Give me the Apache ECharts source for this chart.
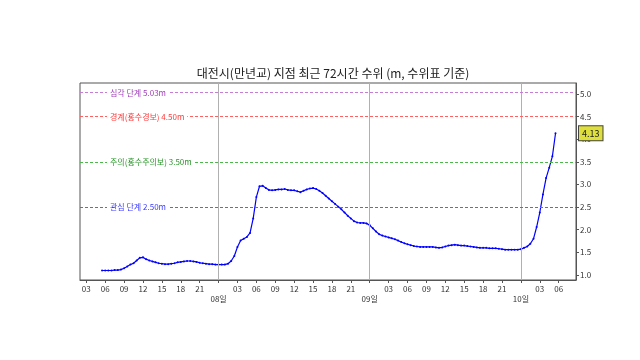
<!DOCTYPE html>
<html><head><meta charset="utf-8">
<script src="https://cdn.jsdelivr.net/npm/echarts@6/dist/echarts.min.js"></script>
<style>html,body{margin:0;padding:0;background:#fff}#c{width:640px;height:360px}</style>
</head><body><div id="c"></div>
<script>
// Hours counted from 07일 00:00; readings every 30 minutes
const startHour = 5.5;
const stepHours = 0.5;
const waterLevel = [
 1.10,1.10,1.10,1.10,1.11,1.11,1.12,1.15,1.19,1.23,1.26,1.32,1.38,1.39,1.35,1.32,1.30,1.28,1.26,1.25,
 1.24,1.24,1.25,1.26,1.28,1.29,1.30,1.31,1.31,1.30,1.29,1.27,1.26,1.25,1.24,1.24,1.23,1.23,1.23,1.23,
 1.25,1.31,1.42,1.62,1.76,1.80,1.84,1.93,2.25,2.72,2.96,2.97,2.92,2.88,2.87,2.88,2.89,2.89,2.90,2.88,
 2.87,2.87,2.85,2.83,2.86,2.89,2.91,2.92,2.90,2.86,2.81,2.75,2.69,2.63,2.57,2.51,2.45,2.38,2.31,2.25,
 2.19,2.16,2.15,2.15,2.14,2.10,2.03,1.96,1.90,1.87,1.85,1.83,1.81,1.79,1.76,1.73,1.70,1.68,1.66,1.64,
 1.63,1.62,1.62,1.62,1.62,1.62,1.61,1.60,1.61,1.63,1.65,1.66,1.67,1.66,1.65,1.65,1.64,1.63,1.62,1.61,
 1.60,1.60,1.60,1.59,1.59,1.59,1.58,1.57,1.56,1.56,1.56,1.56,1.56,1.57,1.60,1.63,1.69,1.80,2.06,2.38,
 2.78,3.14,3.37,3.62,4.13
];
const dayBoundaries = [24, 48, 72];
const dayNames = ['08일', '09일', '10일'];
const hourTicks = [3,6,9,12,15,18,21,24,27,30,33,36,39,42,45,48,51,54,57,60,63,66,69,72,75,78];
const levelTicks = [1.0,1.5,2.0,2.5,3.0,3.5,4.0,4.5,5.0];
const thresholdValues = [5.03, 4.50, 3.50, 2.50];
const thresholdLabels = ['심각 단계 5.03m', '경계(홍수경보) 4.50m', '주의(홍수주의보) 3.50m', '관심 단계 2.50m'];
const thresholdLineColors = ['#c77dd6', '#ff6060', '#4cb84c', '#6060ff'];
const thresholdTextColors = ['#a03cb8', '#ff3a3a', '#2a962a', '#3a3aff'];
const titleText = '대전시(만년교) 지점 최근 72시간 수위 (m, 수위표 기준)';

const FONT = '"Noto Sans CJK KR", "DejaVu Sans", sans-serif';
const seriesData = waterLevel.map((v, i) => [startHour + i * stepHours, v]);
const lastVal = waterLevel[waterLevel.length - 1];

const markData = [];
dayBoundaries.forEach(d => markData.push({
  xAxis: d, lineStyle: {color: '#b0b0b0', type: 'solid', width: 1}, label: {show: false}
}));
thresholdValues.forEach((v, i) => markData.push({
  yAxis: v,
  lineStyle: {color: thresholdLineColors[i], type: [3, 2], width: 1},
  label: {show: true, position: 'insideStart', distance: [27, 0], formatter: thresholdLabels[i],
    color: thresholdTextColors[i], fontSize: 8, fontFamily: FONT, backgroundColor: '#fff', padding: [0, 3]}
}));
markData.push({
  yAxis: lastVal,
  lineStyle: {color: 'rgba(0,0,0,0)', width: 0},
  label: {show: true, position: 'end', distance: 3, formatter: lastVal.toFixed(2),
    color: '#222', fontSize: 9, fontFamily: FONT, backgroundColor: '#dede3c',
    borderColor: '#444', borderWidth: 1, padding: [3, 3, 2, 3]}
});

const chart = echarts.init(document.getElementById('c'), null, {renderer: 'canvas'});
chart.setOption({
  animation: false,
  backgroundColor: '#fff',
  title: {text: titleText, left: 328, textAlign: 'center', top: 62,
    textStyle: {fontSize: 12, fontWeight: 'normal', color: '#222', fontFamily: FONT}},
  grid: {left: 80, right: 64, top: 83, bottom: 80, show: true, borderColor: '#555', borderWidth: 1},
  xAxis: {
    type: 'value', min: 2, max: 80.75,
    axisLine: {show: true, onZero: false, lineStyle: {color: '#555'}},
    axisTick: {show: true, customValues: hourTicks, length: 3, lineStyle: {color: '#555'}},
    axisLabel: {show: true, customValues: hourTicks, fontSize: 8, color: '#333', fontFamily: FONT, margin: 4, lineHeight: 10,
      formatter: v => {
        if (v % 24 === 0) return '\n' + dayNames[dayBoundaries.indexOf(v)];
        const h = v % 24; return (h < 10 ? '0' : '') + h;
      }},
    splitLine: {show: false}
  },
  yAxis: {
    type: 'value', position: 'right', min: 0.89, max: 5.24,
    axisLine: {show: true, lineStyle: {color: '#555'}},
    axisTick: {show: true, customValues: levelTicks, length: 3, lineStyle: {color: '#555'}},
    axisLabel: {show: true, customValues: levelTicks, fontSize: 8, color: '#333', fontFamily: FONT, margin: 4,
      formatter: v => v.toFixed(1)},
    splitLine: {show: false}
  },
  series: [{
    type: 'line', data: seriesData,
    lineStyle: {color: '#0000ff', width: 1.2},
    itemStyle: {color: '#0000ff'},
    symbol: 'circle', symbolSize: 2, showSymbol: true,
    markLine: {silent: true, symbol: 'none', animation: false, data: markData}
  }]
});
</script></body></html>
